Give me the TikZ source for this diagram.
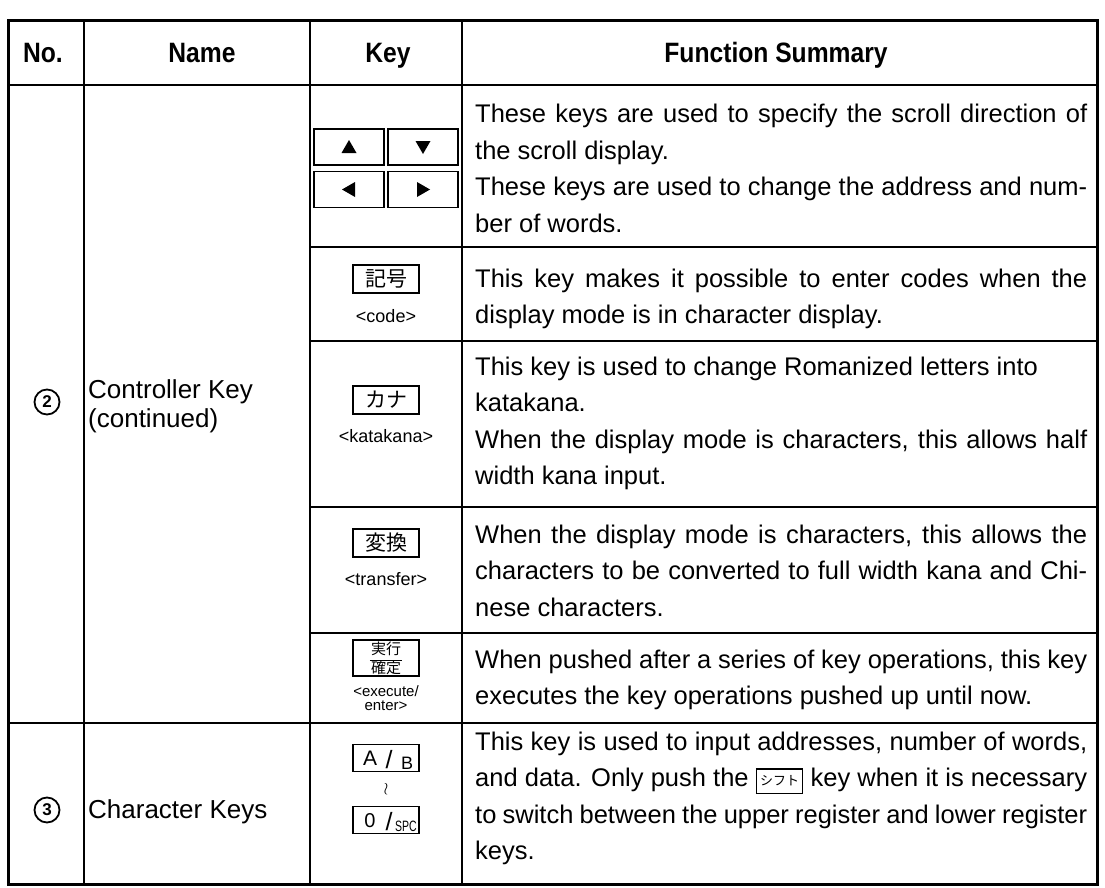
\documentclass[tikz,border=0pt]{standalone}
\usepackage{fontspec}
\usepackage{graphicx}
\setmainfont{Liberation Sans}
\newfontfamily\cjk{Noto Sans CJK JP}
\newfontfamily\headfont[FakeStretch=0.88]{Liberation Sans}

% one justified line of the summary column, and a closing (ragged) line
\newcommand\fullline[1]{\hbox to 612pt{#1}}
\newcommand\lastline[1]{\hbox{#1}}
\newcommand\cell[1]{\vtop{\fontsize{25.5}{36.5}\selectfont #1}}
% small framed key shown inside running text
\newcommand\shiftkey{\raisebox{-6pt}{\fboxsep=0pt\fboxrule=1.3pt\fbox{\vbox to 23pt{\vss\hbox to 45pt{\hss\cjk\fontsize{13}{13}\selectfont シフト\hss}\vss}}}}

\begin{document}
\begin{tikzpicture}[x=1pt, y=-1pt, line join=miter]
\tikzset{
  innerline/.style={line width=1.8pt},
  outerline/.style={line width=3pt},
  keybox/.style={draw, line width=1.4pt, minimum width=66pt, minimum height=28pt, inner sep=0pt},
  arrowkey/.style={keybox, minimum width=70pt, minimum height=36pt},
  body/.style={anchor=base west, inner sep=0pt},
  head/.style={anchor=base, inner sep=0pt, font=\headfont\bfseries\fontsize{28}{30}\selectfont},
  namef/.style={anchor=base west, inner sep=0pt, font=\fontsize{26}{30}\selectfont},
  keycap/.style={anchor=base, inner sep=0pt, font=\fontsize{18}{18}\selectfont},
  smallcap/.style={anchor=base, inner sep=0pt, font=\fontsize{15}{15}\selectfont},
  cjkkey/.style={inner sep=0pt, font=\cjk\fontsize{21}{21}\selectfont},
  circnum/.style={circle, draw, line width=1.8pt, minimum size=25pt, inner sep=0pt, font=\bfseries\fontsize{17}{17}\selectfont},
}
\useasboundingbox (0,0) rectangle (1105,888);

% ---- table rules ----
\draw[innerline] (84,21) -- (84,884);
\draw[innerline] (310,21) -- (310,884);
\draw[innerline] (462,21) -- (462,884);
\draw[innerline] (8,85) -- (1097,85);
\draw[innerline] (310,247) -- (1097,247);
\draw[innerline] (310,341) -- (1097,341);
\draw[innerline] (310,507) -- (1097,507);
\draw[innerline] (310,633) -- (1097,633);
\draw[innerline] (8,723) -- (1097,723);
\draw[outerline] (8,21) rectangle (1097,884);

% ---- header ----
\node[head] (hno)   at (43,63)  {No.};
\node[head] (hname) at (202,63) {Name};
\node[head] (hkey)  at (388,63) {Key};
\node[head] (hfun)  at (776,63) {Function Summary};

% ---- number and name columns ----
\node[circnum] (n2) at (47,402) {2};
\node[namef] (name2a) at (88,398) {Controller Key};
\node[namef] (name2b) at (88,427) {(continued)};
\node[circnum] (n3) at (47,810) {3};
\node[namef] (name3) at (88,818) {Character Keys};

% ---- cursor keys ----
\node[arrowkey] (ku) at (349,147) {};
\node[arrowkey] (kd) at (423,147) {};
\node[arrowkey] (kl) at (349,189.5) {};
\node[arrowkey] (kr) at (423,189.5) {};
\fill ([shift={(0,-7)}]ku.center) -- ([shift={(7.5,6)}]ku.center) -- ([shift={(-7.5,6)}]ku.center) -- cycle;
\fill ([shift={(0,7)}]kd.center) -- ([shift={(7.5,-6)}]kd.center) -- ([shift={(-7.5,-6)}]kd.center) -- cycle;
\fill ([shift={(-7,0)}]kl.center) -- ([shift={(6,7.5)}]kl.center) -- ([shift={(6,-7.5)}]kl.center) -- cycle;
\fill ([shift={(7,0)}]kr.center) -- ([shift={(-6,7.5)}]kr.center) -- ([shift={(-6,-7.5)}]kr.center) -- cycle;

% ---- single keys ----
\node[keybox] (kcode) at (386,279) {};
\node[cjkkey] (kcodet) at (kcode.center) {記号};
\node[keycap] (kcodel) at (386,322) {<code>};

\node[keybox] (kkana) at (386,400) {};
\node[cjkkey] (kkanat) at (kkana.center) {カナ};
\node[keycap] (kkanal) at (386,442) {<katakana>};

\node[keybox] (kconv) at (386,543) {};
\node[cjkkey] (kconvt) at (kconv.center) {変換};
\node[keycap] (kconvl) at (386,585) {<transfer>};

\node[keybox, minimum height=36pt] (kexec) at (386,658) {};
\node[inner sep=0pt, font=\cjk\fontsize{15}{15}\selectfont] (kexa) at (386,649) {実行};
\node[inner sep=0pt, font=\cjk\fontsize{15}{15}\selectfont] (kexb) at (386,668) {確定};
\draw[line width=1pt] ([xshift=-1pt]kexb.north west) -- ([xshift=1pt]kexb.north east);
\node[smallcap] (kexl1) at (386,696) {<execute/};
\node[smallcap] (kexl2) at (386,710) {enter>};

% ---- character keys ----
\node[keybox, minimum height=27pt] (kab) at (386,758) {};
\node[anchor=base, inner sep=0pt, font=\fontsize{21}{21}\selectfont] (kaba) at (370,765) {A};
\node[anchor=base, inner sep=0pt, font=\fontsize{25}{25}\selectfont] (kabs) at (389,768) {/};
\node[anchor=base, inner sep=0pt, font=\fontsize{18}{18}\selectfont] (kabb) at (407,769) {B};
\node[inner sep=0pt, font=\fontsize{18}{18}\selectfont] (kwave) at (386,789) {$\wr$};
\node[keybox, minimum height=27pt] (k0) at (386,820) {};
\node[anchor=base, inner sep=0pt, font=\fontsize{20}{20}\selectfont] (k0a) at (370,827) {0};
\node[anchor=base, inner sep=0pt, font=\fontsize{25}{25}\selectfont] (k0s) at (389,830) {/};
\node[anchor=base, inner sep=0pt, font=\fontsize{15}{15}\selectfont] (k0b) at (406,831) {\scalebox{0.7}[1]{SPC}};

% ---- function summaries ----
\node[body] (f1) at (475,123) {\cell{%
  \fullline{These keys are used to specify the scroll direction of}
  \lastline{the scroll display.}
  \fullline{These keys are used to change the address and num-}
  \lastline{ber of words.}}};
\node[body] (f2) at (475,287) {\cell{%
  \fullline{This key makes it possible to enter codes when the}
  \lastline{display mode is in character display.}}};
\node[body] (f3) at (475,375) {\cell{%
  \lastline{This key is used to change Romanized letters into}
  \lastline{katakana.}
  \fullline{When the display mode is characters, this allows half}
  \lastline{width kana input.}}};
\node[body] (f4) at (475,543) {\cell{%
  \fullline{When the display mode is characters, this allows the}
  \fullline{characters to be converted to full width kana and Chi-}
  \lastline{nese characters.}}};
\node[body] (f5) at (475,668) {\cell{%
  \fullline{When pushed after a series of key operations, this key}
  \lastline{executes the key operations pushed up until now.}}};
\node[body] (f6) at (475,750) {\cell{%
  \fullline{This key is used to input addresses, number of words,}
  \fullline{and data. Only push the \shiftkey{} key when it is necessary}
  \fullline{to switch between the upper register and lower register}
  \lastline{keys.}}};
\end{tikzpicture}
\end{document}
